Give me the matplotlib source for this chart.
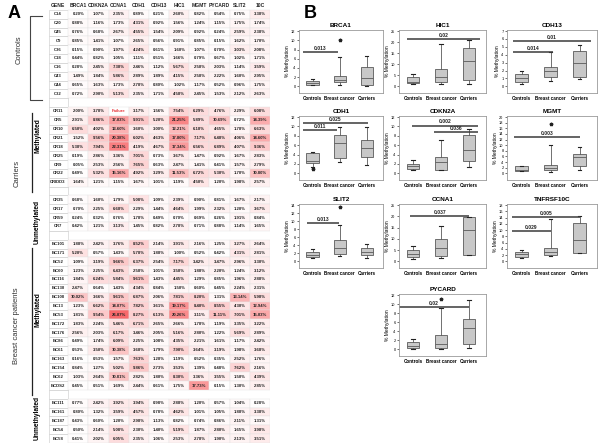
import matplotlib
matplotlib.use("Agg")
import matplotlib.pyplot as plt
from matplotlib import font_manager
from matplotlib.patches import Rectangle
from matplotlib.colors import LinearSegmentedColormap

_names = {f.name for f in font_manager.fontManager.ttflist}
plt.rcParams["font.family"] = ["Liberation Sans", "DejaVu Sans"]
NARROW = "Liberation Sans Narrow" if "Liberation Sans Narrow" in _names else "Liberation Sans"

W, H = 600, 445

# ---------------- panel A : methylation table ----------------
genes = ["BRCA1", "CDKN2A", "CCNA1", "CDH1", "CDH13", "HIC1", "MGMT", "PYCARD", "SLIT2", "10C"]

ctrl_ids = ["C14", "C20", "C45", "C9", "C36", "C18", "C16", "C43", "C44", "C32"]
ctrl_vals = [
    [0.20, 1.07, 2.35, 0.89, 0.21, 2.60, 0.82, 0.54, 0.75, 3.38],
    [0.88, 1.16, 1.73, 4.31, 0.92, 1.56, 1.24, 1.15, 1.75, 1.74],
    [0.76, 0.68, 2.67, 4.55, 1.54, 2.09, 0.92, 0.24, 2.59, 2.38],
    [0.85, 1.41, 1.07, 2.65, 0.56, 0.91, 0.85, 0.15, 1.62, 1.70],
    [0.15, 0.90, 1.97, 4.24, 0.61, 1.60, 1.07, 0.70, 3.03, 2.08],
    [0.44, 0.82, 1.05, 1.11, 0.51, 1.66, 0.79, 0.67, 1.02, 1.71],
    [0.28, 2.45, 7.38, 2.46, 1.12, 5.67, 2.58, 2.03, 1.14, 3.59],
    [1.49, 1.84, 5.86, 2.89, 1.89, 4.15, 2.58, 2.22, 1.60, 2.95],
    [0.65, 1.63, 1.73, 2.78, 0.80, 1.02, 1.17, 0.52, 0.96, 1.75],
    [0.72, 2.90, 5.13, 2.35, 1.71, 4.58, 2.45, 1.53, 2.12, 2.63],
]

carm_ids = ["CR11", "CR5", "CR10", "CR21", "CR18", "CR25", "CR9", "CR22", "CRIDD3"]
carm_vals = [
    [2.00, 3.78, None, 3.17, 1.56, 7.54, 6.29, 4.76, 2.29, 6.08],
    [2.91, 8.86, 17.03, 9.91, 5.20, 21.25, 5.89, 10.69, 0.72, 14.39],
    [6.50, 4.02, 13.60, 3.60, 3.00, 12.21, 6.18, 4.65, 1.78, 6.63],
    [1.52, 9.56, 20.38, 6.02, 4.63, 17.80, 7.17, 6.48, 4.06, 14.60],
    [5.38, 7.94, 22.31, 4.19, 4.67, 17.34, 6.56, 6.89, 4.07, 9.36],
    [0.19, 2.86, 3.36, 7.01, 0.73, 3.67, 1.47, 0.92, 1.67, 2.83],
    [0.05, 2.53, 2.56, 7.65, 0.63, 2.47, 1.41, 0.41, 1.57, 2.79],
    [0.49, 5.32, 15.16, 4.92, 3.29, 11.53, 6.72, 5.30, 1.70, 10.80],
    [1.64, 1.21, 1.15, 1.67, 1.01, 1.19, 4.50, 1.20, 1.98, 2.57],
]

caru_ids = ["CR35", "CR17", "CR59", "CR7"]
caru_vals = [
    [0.68, 1.60, 1.79, 5.08, 1.09, 2.39, 0.90, 0.81, 1.67, 2.17],
    [0.70, 2.25, 6.68, 2.29, 1.44, 4.64, 1.99, 2.32, 1.20, 3.67],
    [0.24, 0.32, 0.76, 1.78, 0.49, 0.70, 0.69, 0.26, 1.91, 0.84],
    [0.42, 1.21, 3.13, 1.45, 0.82, 2.78, 0.71, 0.88, 1.14, 1.65],
]

bcm_ids = ["BC101", "BC171", "BC52", "BC60", "BC116", "BC130", "BC108", "BC13", "BC53",
           "BC172", "BC176", "BC86", "BC61", "BC163", "BC154", "BC62", "BCDS2"]
bcm_vals = [
    [1.88, 2.42, 3.76, 8.52, 2.14, 3.91, 2.16, 1.25, 3.27, 2.64],
    [5.20, 0.57, 1.43, 5.78, 1.88, 1.00, 0.52, 0.42, 4.31, 2.81],
    [1.09, 3.19, 9.66, 6.37, 2.54, 7.17, 3.42, 3.47, 2.96, 3.30],
    [1.23, 2.25, 6.43, 2.58, 1.01, 3.58, 1.88, 2.20, 1.24, 3.12],
    [1.84, 6.24, 5.84, 9.61, 1.43, 4.45, 1.29, 0.85, 1.96, 2.88],
    [2.47, 0.64, 1.43, 4.34, 0.84, 1.50, 0.60, 0.45, 2.24, 2.31],
    [10.02, 3.66, 9.61, 6.87, 2.06, 7.81, 8.20, 1.31, 13.14, 5.98],
    [1.23, 6.62, 14.07, 7.82, 3.61, 19.17, 8.40, 8.55, 4.30, 12.94],
    [1.81, 9.54, 26.07, 8.27, 6.13, 20.26, 3.11, 11.11, 7.01, 15.03],
    [1.83, 2.24, 5.46, 6.71, 2.65, 2.66, 1.78, 1.19, 3.35, 3.22],
    [2.56, 2.03, 6.17, 3.46, 2.05, 5.16, 2.80, 1.22, 5.69, 2.89],
    [0.49, 1.74, 6.09, 2.25, 1.08, 4.35, 2.21, 1.61, 1.17, 2.42],
    [0.53, 3.50, 10.38, 3.68, 1.79, 7.90, 3.64, 3.19, 1.98, 3.68],
    [0.16, 0.53, 1.57, 7.63, 1.28, 1.19, 0.52, 0.35, 2.52, 1.76],
    [0.84, 1.27, 5.02, 9.86, 2.73, 3.53, 1.39, 0.48, 7.62, 2.16],
    [1.03, 2.64, 10.81, 2.82, 1.80, 8.30, 3.36, 3.55, 1.50, 4.39],
    [0.45, 0.51, 1.69, 2.44, 0.61, 1.75, 17.73, 0.15, 1.30, 2.85],
]

bcu_ids = ["BC111", "BC161", "BC187", "BC54", "BC58"]
bcu_vals = [
    [0.77, 2.42, 3.92, 3.94, 0.98, 2.88, 1.20, 0.57, 1.04, 0.28],
    [0.80, 1.32, 3.59, 4.57, 0.78, 4.62, 1.01, 1.05, 1.88, 3.38],
    [0.43, 0.60, 1.20, 2.98, 1.13, 0.82, 0.74, 0.86, 2.11, 1.31],
    [0.50, 2.14, 5.08, 2.30, 1.40, 5.19, 1.87, 2.80, 1.65, 3.98],
    [0.41, 2.02, 6.05, 2.35, 1.06, 2.53, 2.78, 1.90, 2.13, 3.51],
]

# ---------------- panel B : box plots ----------------
groups = ["Controls", "Breast cancer", "Carriers"]
# (whislo, q1, median, q3, whishi, fliers) for Controls / Breast cancer / Carriers
box_stats = {
    "BRCA1": [(0.2, 0.4, 0.75, 1.2, 1.5, []), (0.3, 0.87, 1.4, 2.3, 6.3, [10.0]), (0.1, 0.4, 1.8, 4.1, 6.5, [])],
    "HIC1": [(0.9, 1.5, 2.1, 4.2, 5.7, []), (1.0, 2.0, 4.2, 7.7, 19.3, []), (1.2, 3.1, 11.3, 17.3, 20.8, [])],
    "CDH13": [(0.3, 0.6, 1.0, 1.6, 1.9, []), (0.7, 1.15, 1.95, 2.45, 4.3, []), (0.9, 1.2, 2.9, 4.5, 5.2, [])],
    "CDH1": [(1.3, 2.1, 2.7, 4.3, 4.65, [0.95]), (2.4, 3.2, 6.4, 8.15, 9.8, []), (1.8, 3.5, 5.3, 7.2, 9.9, [])],
    "CDKN2A": [(0.7, 0.95, 1.45, 2.0, 2.9, []), (0.6, 0.8, 2.4, 3.5, 7.1, []), (1.3, 2.6, 4.9, 8.1, 9.5, [])],
    "MGMT": [(0.8, 0.85, 1.0, 2.5, 2.6, []), (0.6, 1.2, 2.0, 3.1, 10.1, [17.4]), (1.2, 2.6, 5.8, 7.0, 9.3, [])],
    "SLIT2": [(0.85, 1.1, 1.6, 2.2, 3.1, []), (1.2, 1.7, 3.4, 5.3, 9.1, [13.5]), (0.85, 1.45, 2.2, 3.4, 4.3, [])],
    "CCNA1": [(1.1, 1.7, 3.1, 4.8, 6.8, []), (1.5, 2.5, 5.9, 9.7, 15.5, []), (2.8, 2.8, 14.1, 19.7, 19.7, [])],
    "TNFRSF10C": [(1.2, 1.5, 2.2, 2.9, 3.6, []), (1.8, 1.9, 2.9, 4.1, 13.6, []), (2.6, 2.75, 6.9, 12.4, 14.5, [])],
    "PYCARD": [(0.1, 0.35, 0.8, 1.65, 2.4, []), (0.2, 0.35, 1.3, 3.25, 9.1, [11.1]), (0.35, 1.1, 4.8, 6.7, 10.9, [])],
}
# y-axis max and tick step
y_axis = {"BRCA1": (12, 2), "HIC1": (25, 5), "CDH13": (7, 1), "CDH1": (12, 2), "CDKN2A": (12, 2),
          "MGMT": (20, 2), "SLIT2": (14, 2), "CCNA1": (25, 5), "TNFRSF10C": (18, 2), "PYCARD": (12, 2)}
# significance bars: (x start, x end, y, p value)
sig_bars = {
    "BRCA1": [(0.63, 1.93, 7.4, "0.013")],
    "HIC1": [(0.79, 3.4, 21.3, "0.02")],
    "CDH13": [(0.69, 3.38, 5.7, "0.01"), (0.69, 2.1, 4.4, "0.014")],
    "CDH1": [(0.63, 3.04, 10.7, "0.025"), (0.63, 1.9, 9.2, "0.011")],
    "CDKN2A": [(0.97, 3.3, 10.2, "0.002"), (1.75, 3.3, 8.8, "0.036")],
    "MGMT": [(0.75, 3.0, 12.8, "0.003")],
    "SLIT2": [(0.78, 1.96, 9.5, "0.013")],
    "CCNA1": [(0.9, 3.0, 20.1, "0.037")],
    "TNFRSF10C": [(0.68, 3.0, 14.3, "0.005"), (0.68, 2.0, 9.8, "0.029")],
    "PYCARD": [(0.5, 3.0, 9.3, "0.02")],
}
# plot areas in pixels (left, top, right, bottom)
cols = [(299, 383), (399, 486), (507, 597)]
rows = [(30, 93), (116, 180), (204, 268), (294, 356)]
panel_pos = {"BRCA1": (0, 0), "HIC1": (1, 0), "CDH13": (2, 0),
             "CDH1": (0, 1), "CDKN2A": (1, 1), "MGMT": (2, 1),
             "SLIT2": (0, 2), "CCNA1": (1, 2), "TNFRSF10C": (2, 2),
             "PYCARD": (1, 3)}


def px(x0, y0, x1, y1):
    return [x0 / W, 1 - y1 / H, (x1 - x0) / W, (y1 - y0) / H]


fig = plt.figure(figsize=(W / 100, H / 100), dpi=100)

# ---- table ----
heat = LinearSegmentedColormap.from_list("heat", ["#ffffff", "#f8696b"])
vmax = 26.07
table_rows = [("hdr", None)]
blocks = [(ctrl_ids, ctrl_vals), (carm_ids, carm_vals), (caru_ids, caru_vals),
          (bcm_ids, bcm_vals), (bcu_ids, bcu_vals)]
for k, (ids, vals) in enumerate(blocks):
    if k > 0:
        table_rows.append(("", None))
    for name, v in zip(ids, vals):
        table_rows.append((name, v))
n_rows = len(table_rows)

tab = fig.add_axes(px(48, 1, 270, 443))
tab.set_xlim(0, 11)
tab.set_ylim(n_rows, 0)
tab.axis("off")
cell_font = dict(fontsize=3.1, fontweight="bold", family=[NARROW, "DejaVu Sans"],
                 ha="center", va="center", color="#222222")
for i, (name, vals) in enumerate(table_rows):
    if name == "hdr":
        for j, g in enumerate(["GENE"] + genes):
            tab.text(j + 0.5, i + 0.5, g, **{**cell_font, "fontsize": 3.6})
        continue
    tab.add_patch(Rectangle((0.05, i), 0.95, 1, fc="white", ec="#c8c8c8", lw=0.4))
    if vals is None:
        continue
    tab.text(0.5, i + 0.5, name, **cell_font)
    for j, v in enumerate(vals):
        fc = "white" if v is None else heat(min(v / vmax, 1))
        tab.add_patch(Rectangle((j + 1, i), 1, 1, fc=fc, ec="#e2e2e2", lw=0.3))
        if v is None:
            tab.text(j + 1.5, i + 0.5, "Failure", **{**cell_font, "color": "#e8383d"})
        else:
            tab.text(j + 1.5, i + 0.5, f"{v:.2f}%", **cell_font)

# group annotations (figure pixel coordinates)
def ftext(x, y, s, **kw):
    fig.text(x / W, 1 - y / H, s, **kw)


def fline(xs, ys, **kw):
    fig.add_artist(plt.Line2D([x / W for x in xs], [1 - y / H for y in ys], **kw))


ftext(8, 13, "A", fontsize=13, fontweight="bold", ha="left", va="center")
ftext(304, 13, "B", fontsize=13, fontweight="bold", ha="left", va="center")
ftext(19, 50, "Controls", fontsize=5.5, rotation=90, ha="center", va="center", color="#333333")
fline([42, 30, 30, 42], [16, 16, 100, 100], color="#444444", lw=0.8)
ftext(17, 173, "Carriers", fontsize=5.5, rotation=90, ha="center", va="center", color="#333333")
ftext(17, 326, "Breast cancer patients", fontsize=5.5, rotation=90, ha="center", va="center", color="#333333")
for y0, y1, yc, lab in [(113, 192, 136, "Methylated"), (248, 395, 310, "Methylated"),
                        (None, None, 222, "Unmethylated"), (None, None, 418, "Unmethylated")]:
    if y0 is not None:
        fline([32, 32], [y0, y1], color="#222222", lw=0.9)
    ftext(37.5, yc, lab, fontsize=4.8, fontweight="bold", rotation=90, ha="center", va="center")

# ---- box plots ----
for gene, (ci, ri) in panel_pos.items():
    l, r = cols[ci]
    t, b = rows[ri]
    ax = fig.add_axes(px(l, t, r, b))
    stats = []
    for g, (lo, q1, med, q3, hi, fl) in zip(groups, box_stats[gene]):
        stats.append(dict(label=g, whislo=lo, q1=q1, med=med, q3=q3, whishi=hi, fliers=fl))
    ax.bxp(stats, positions=[1, 2, 3], widths=0.45, patch_artist=True,
           boxprops=dict(facecolor="#c8c8c8", edgecolor="#5a5a5a", lw=0.6),
           medianprops=dict(color="#5a5a5a", lw=0.6),
           whiskerprops=dict(color="#5a5a5a", lw=0.6),
           capprops=dict(color="#222222", lw=0.8), capwidths=0.12,
           flierprops=dict(marker="*", ms=2.5, mfc="#222222", mec="#222222"))
    ymax, step = y_axis[gene]
    ax.set_ylim(-0.12 * ymax, ymax * 1.02)
    ax.set_yticks(range(0, ymax + 1, step))
    ax.set_xlim(0.5, 3.6)
    for x0, x1, y, p in sig_bars[gene]:
        ax.plot([x0, x1], [y, y], color="#3a3a3a", lw=1.1, solid_capstyle="butt", clip_on=False)
        ax.text((x0 + x1) / 2, y + 0.02 * ymax, p, fontsize=3.6, fontweight="bold",
                ha="center", va="bottom", color="#222222")
    ax.set_title(gene, fontsize=4.6, fontweight="bold", pad=2)
    ax.set_ylabel("% Methylation", fontsize=3.6, labelpad=1)
    ax.tick_params(axis="y", labelsize=2.8, length=1.5, width=0.4, pad=1)
    ax.tick_params(axis="x", labelsize=3.3, length=0, pad=2)
    for lab in ax.get_xticklabels():
        lab.set_fontweight("bold")
    for s in ax.spines.values():
        s.set_color("#9a9a9a")
        s.set_linewidth(0.6)

fig.savefig("out.png", dpi=100)
